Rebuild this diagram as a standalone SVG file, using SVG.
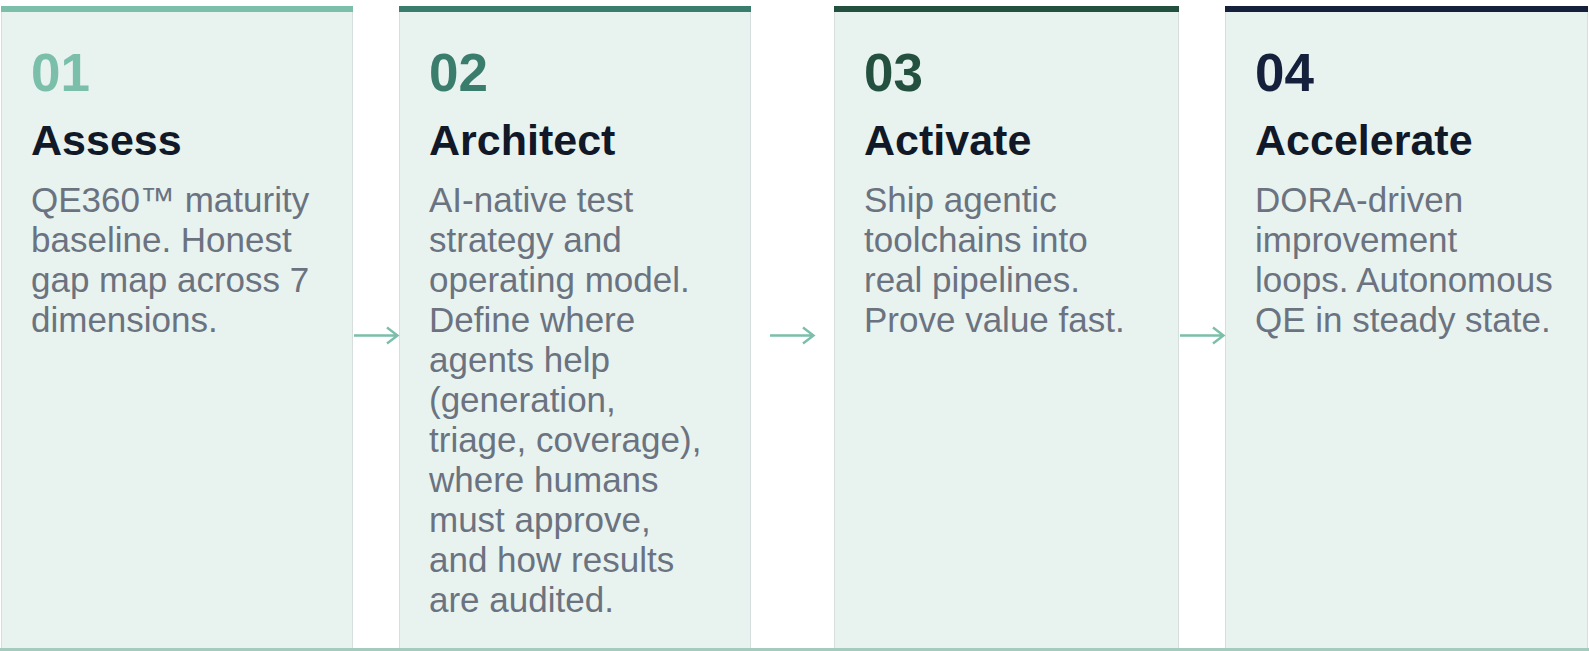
<svg xmlns="http://www.w3.org/2000/svg" width="1589" height="651" viewBox="0 0 1589 651">
<style>
.card{fill:#e8f3ef;stroke:#d6dfdd;stroke-width:1}
.num{font-family:"Liberation Sans",Arial,sans-serif;font-weight:bold;font-size:53px}
.title{font-family:"Liberation Sans",Arial,sans-serif;font-weight:bold;font-size:43px;fill:#111827}
.body{font-family:"Liberation Sans",Arial,sans-serif;font-size:35px;fill:#6b7280}
.conn{fill:none;stroke:#7bbfaa;stroke-width:2.4;stroke-linecap:butt}
</style>
<rect x="0" y="0" width="1589" height="651" fill="#ffffff"/>
<g id="card1">
<rect class="card" x="1.5" y="6.5" width="351" height="642"/>
<rect x="1" y="6" width="352" height="6" fill="#7bbfaa"/>
<text class="num" x="31" y="91" fill="#7bbfaa">01</text>
<text class="title" x="31" y="155">Assess</text>
<text class="body" x="31" y="212">QE360™ maturity</text>
<text class="body" x="31" y="252">baseline. Honest</text>
<text class="body" x="31" y="292">gap map across 7</text>
<text class="body" x="31" y="332">dimensions.</text>
</g>
<g id="card2">
<rect class="card" x="399.5" y="6.5" width="351" height="642"/>
<rect x="399" y="6" width="352" height="6" fill="#3b7d6c"/>
<text class="num" x="429" y="91" fill="#3b7d6c">02</text>
<text class="title" x="429" y="155">Architect</text>
<text class="body" x="429" y="212">AI-native test</text>
<text class="body" x="429" y="252">strategy and</text>
<text class="body" x="429" y="292">operating model.</text>
<text class="body" x="429" y="332">Define where</text>
<text class="body" x="429" y="372">agents help</text>
<text class="body" x="429" y="412">(generation,</text>
<text class="body" x="429" y="452">triage, coverage),</text>
<text class="body" x="429" y="492">where humans</text>
<text class="body" x="429" y="532">must approve,</text>
<text class="body" x="429" y="572">and how results</text>
<text class="body" x="429" y="612">are audited.</text>
</g>
<g id="card3">
<rect class="card" x="834.5" y="6.5" width="344" height="642"/>
<rect x="834" y="6" width="345" height="6" fill="#24503f"/>
<text class="num" x="864" y="91" fill="#24503f">03</text>
<text class="title" x="864" y="155">Activate</text>
<text class="body" x="864" y="212">Ship agentic</text>
<text class="body" x="864" y="252">toolchains into</text>
<text class="body" x="864" y="292">real pipelines.</text>
<text class="body" x="864" y="332">Prove value fast.</text>
</g>
<g id="card4">
<rect class="card" x="1225.5" y="6.5" width="362" height="642"/>
<rect x="1225" y="6" width="363" height="6" fill="#15213c"/>
<text class="num" x="1255" y="91" fill="#15213c">04</text>
<text class="title" x="1255" y="155">Accelerate</text>
<text class="body" x="1255" y="212">DORA-driven</text>
<text class="body" x="1255" y="252">improvement</text>
<text class="body" x="1255" y="292">loops. Autonomous</text>
<text class="body" x="1255" y="332">QE in steady state.</text>
</g>
<g id="connectors">
<path class="conn" d="M354 335.5H397M387 327.5L397.5 335.5L387 343.5"/>
<path class="conn" d="M770 335.5H813M803 327.5L813.5 335.5L803 343.5"/>
<path class="conn" d="M1180 335.5H1223M1213 327.5L1223.5 335.5L1213 343.5"/>
</g>
<rect x="0" y="648" width="1589" height="3" fill="#a5cbbf"/>
</svg>
